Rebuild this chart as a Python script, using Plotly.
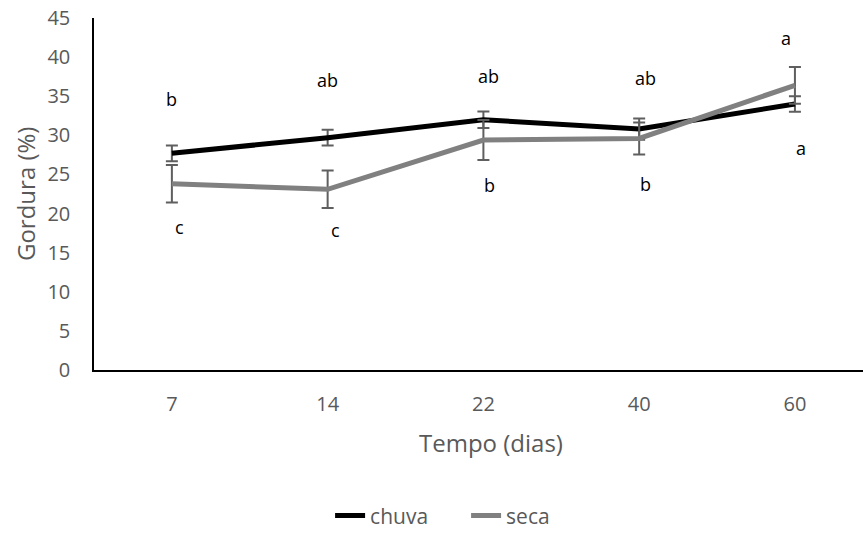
import plotly.graph_objects as go

dias = ["7", "14", "22", "40", "60"]
chuva = [27.7, 29.7, 32.0, 30.8, 34.0]
chuva_err = [1.0, 1.0, 1.05, 1.35, 1.0]
seca = [23.8, 23.1, 29.4, 29.6, 36.4]
seca_err = [2.4, 2.4, 2.55, 2.05, 2.35]

letras_chuva = ["b", "ab", "ab", "ab", "a"]
letras_chuva_y = [34.7, 37.1, 37.6, 37.3, 42.5]
letras_chuva_dx = [0, 0, 5, 6, -9]
letras_seca = ["c", "c", "b", "b", "a"]
letras_seca_y = [18.3, 17.9, 23.7, 23.8, 28.4]
letras_seca_dx = [8, 8, 6, 6, 6]

FONT = "Open Sans, sans-serif"
GREY = "#595959"
ERRC = "#5f5f5f"

fig = go.Figure()
fig.add_trace(go.Scatter(
    x=dias, y=chuva, name="chuva", mode="lines",
    line=dict(color="#000000", width=5),
    error_y=dict(type="data", array=chuva_err, visible=True, color=ERRC, thickness=2, width=6),
))
fig.add_trace(go.Scatter(
    x=dias, y=seca, name="seca", mode="lines",
    line=dict(color="#808080", width=5),
    error_y=dict(type="data", array=seca_err, visible=True, color=ERRC, thickness=2, width=6),
))

for i, (t, y, dx) in enumerate(zip(letras_chuva, letras_chuva_y, letras_chuva_dx)):
    fig.add_annotation(x=i, y=y, xref="x", yref="y", text=t, showarrow=False, xshift=dx,
                       font=dict(family=FONT, size=18, color="#000000"))
for i, (t, y, dx) in enumerate(zip(letras_seca, letras_seca_y, letras_seca_dx)):
    fig.add_annotation(x=i, y=y, xref="x", yref="y", text=t, showarrow=False, xshift=dx,
                       font=dict(family=FONT, size=18, color="#000000"))

# axis titles
fig.add_annotation(x=0.516, y=-0.207, xref="paper", yref="paper", text="Tempo (dias)",
                   showarrow=False, xanchor="center", yanchor="middle",
                   font=dict(family=FONT, size=24, color=GREY))
fig.add_annotation(x=-0.0897, y=0.5, xref="paper", yref="paper", text="Gordura (%)",
                   showarrow=False, xanchor="center", yanchor="middle", textangle=-90,
                   font=dict(family=FONT, size=24, color=GREY))

fig.update_layout(
    width=863, height=533,
    margin=dict(l=94, r=0, t=18, b=163, autoexpand=False),
    paper_bgcolor="white", plot_bgcolor="white",
    font=dict(family=FONT, size=18, color=GREY),
    showlegend=True,
    legend=dict(orientation="h", x=0.307, xanchor="left", yref="container",
                y=0.032, yanchor="middle", entrywidth=91, entrywidthmode="pixels",
                font=dict(family=FONT, size=21, color=GREY)),
    xaxis=dict(
        type="category", range=[-0.5, 4.437],
        showline=True, linecolor="#000000", linewidth=1.5,
        showgrid=False, ticks="", zeroline=False,
        ticklabelstandoff=15,
        tickfont=dict(family=FONT, size=20, color=GREY),
    ),
    yaxis=dict(
        range=[0, 45], dtick=5,
        showline=True, linecolor="#000000", linewidth=1.5,
        showgrid=False, ticks="", zeroline=False,
        ticklabelstandoff=18,
        tickfont=dict(family=FONT, size=20, color=GREY),
    ),
)

fig.write_html("out.html")
